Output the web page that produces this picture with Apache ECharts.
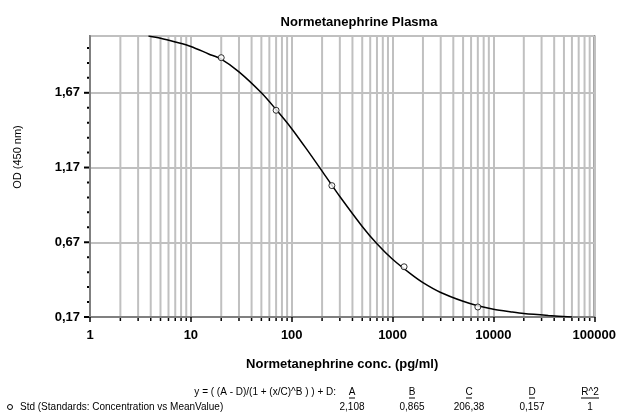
<!DOCTYPE html>
<html>
<head>
<meta charset="utf-8">
<script src="https://cdn.jsdelivr.net/npm/echarts@6/dist/echarts.min.js"></script>
<style>
  html, body { margin: 0; padding: 0; background: #fff; }
  #chart { width: 619px; height: 417px; }
</style>
</head>
<body>
<div id="chart"></div>
<script>
// standards (measured points)
var stdConc = [20, 70, 250, 1300, 7000];
var stdOD = [1.905, 1.553, 1.049, 0.506, 0.237];

// fitted curve
var curveConc = [3.8, 5, 7, 10, 15, 20, 30, 50, 70, 100, 150, 200, 300, 500, 700, 1000, 1500, 2000, 3000, 5000, 7000, 10000, 15000, 20000, 35000, 60000];
var curveOD = [2.05, 2.035, 2.01, 1.98, 1.93, 1.895, 1.81, 1.67, 1.558, 1.43, 1.266, 1.146, 0.976, 0.776, 0.66, 0.556, 0.46, 0.40, 0.334, 0.275, 0.245, 0.222, 0.204, 0.193, 0.18, 0.17];

// axis ticks
var yTicks = [0.17, 0.67, 1.17, 1.67];
var yTickLabels = ['0,17', '0,67', '1,17', '1,67'];
var yMinorTicks = [0.27, 0.37, 0.47, 0.57, 0.77, 0.87, 0.97, 1.07, 1.27, 1.37, 1.47, 1.57, 1.77, 1.87, 1.97];
var xMinorTicks = [];
[1, 10, 100, 1000, 10000].forEach(function (d) {
    for (var k = 2; k <= 9; k++) xMinorTicks.push(k * d);
});

// fit table
var fitFormula = 'y = ( (A - D)/(1 + (x/C)^B ) ) + D:';
var fitHeaders = ['A', 'B', 'C', 'D', 'R^2'];
var fitValues = ['2,108', '0,865', '206,38', '0,157', '1'];
var fitColX = [352, 412, 469, 532, 590];

var Y_MIN = 0.17, Y_MAX = 2.05;
var gridGray = '#c0c0c0';
var axisGray = '#808080';

var myChart = echarts.init(document.getElementById('chart'));

var graphics = [
    {
        type: 'text', x: 18, y: 157, rotation: Math.PI / 2,
        style: { text: 'OD (450 nm)', font: '11px "Liberation Sans", Arial', fill: '#000', align: 'center', verticalAlign: 'middle' }
    },
    {
        type: 'text', x: 336, y: 392,
        style: { text: fitFormula, font: '10px "Liberation Sans", Arial', fill: '#000', align: 'right', verticalAlign: 'middle' }
    },
    {
        type: 'circle', shape: { cx: 10, cy: 407, r: 2.5 },
        style: { fill: '#fff', stroke: '#000', lineWidth: 1 }
    },
    {
        type: 'text', x: 20, y: 407,
        style: { text: 'Std (Standards: Concentration vs MeanValue)', font: '10px "Liberation Sans", Arial', fill: '#000', align: 'left', verticalAlign: 'middle' }
    }
];
fitHeaders.forEach(function (h, i) {
    var w = h.length * 6;
    graphics.push({
        type: 'text', x: fitColX[i], y: 392,
        style: { text: h, font: '10px "Liberation Sans", Arial', fill: '#000', align: 'center', verticalAlign: 'middle' }
    });
    graphics.push({
        type: 'line', shape: { x1: fitColX[i] - w / 2, y1: 398, x2: fitColX[i] + w / 2, y2: 398 },
        style: { stroke: '#000', lineWidth: 1 }
    });
    graphics.push({
        type: 'text', x: fitColX[i], y: 407,
        style: { text: fitValues[i], font: '10px "Liberation Sans", Arial', fill: '#000', align: 'center', verticalAlign: 'middle' }
    });
});

var option = {
    animation: false,
    backgroundColor: '#fff',
    title: {
        text: 'Normetanephrine Plasma',
        left: 354, top: 11, textAlign: 'center',
        textStyle: { fontFamily: '"Liberation Sans", Arial', fontSize: 13, fontWeight: 'bold', color: '#000' }
    },
    grid: {
        left: 90, right: 23, top: 36, bottom: 100,
        show: true, borderColor: axisGray, borderWidth: 2, backgroundColor: 'transparent'
    },
    xAxis: {
        type: 'log', logBase: 10, min: 1, max: 100000,
        name: 'Normetanephrine conc. (pg/ml)',
        nameLocation: 'middle', nameGap: 41,
        nameTextStyle: { fontFamily: '"Liberation Sans", Arial', fontSize: 13, fontWeight: 'bold', color: '#000' },
        axisLine: { lineStyle: { color: axisGray, width: 2 } },
        axisTick: { length: 5, lineStyle: { color: '#000', width: 1.5 } },
        axisLabel: {
            margin: 12, color: '#000', fontFamily: '"Liberation Sans", Arial', fontSize: 13, fontWeight: 'bold',
            formatter: function (v) { return String(Math.round(v)); }
        },
        splitLine: { show: true, lineStyle: { color: gridGray, width: 2 } }
    },
    yAxis: {
        type: 'value', min: Y_MIN, max: Y_MAX, interval: 0.5,
        axisLine: { show: true, lineStyle: { color: axisGray, width: 2 } },
        axisTick: { show: false },
        axisLabel: {
            margin: 10, color: '#000', fontFamily: '"Liberation Sans", Arial', fontSize: 13, fontWeight: 'bold',
            formatter: function (v) {
                for (var i = 0; i < yTicks.length; i++) {
                    if (Math.abs(v - yTicks[i]) < 1e-6) return yTickLabels[i];
                }
                return '';
            }
        },
        splitLine: { show: true, lineStyle: { color: gridGray, width: 2 } }
    },
    graphic: graphics,
    series: [
        {
            // minor vertical grid lines and their ticks
            type: 'custom', z: -1, silent: true,
            data: xMinorTicks.map(function (v) { return [v]; }),
            renderItem: function (params, api) {
                var p0 = api.coord([api.value(0), Y_MIN]);
                var p1 = api.coord([api.value(0), Y_MAX]);
                return {
                    type: 'group', children: [
                        { type: 'line', shape: { x1: p0[0], y1: p0[1], x2: p1[0], y2: p1[1] }, style: { stroke: gridGray, lineWidth: 2 } },
                        { type: 'line', shape: { x1: p0[0], y1: p0[1] + 1, x2: p0[0], y2: p0[1] + 4 }, style: { stroke: '#000', lineWidth: 1.5 } }
                    ]
                };
            }
        },
        {
            // y ticks (major long, minor short)
            type: 'custom', silent: true,
            data: yTicks.map(function (v) { return [v, 5]; }).concat(yMinorTicks.map(function (v) { return [v, 2]; })),
            renderItem: function (params, api) {
                var p = api.coord([1, api.value(0)]);
                var len = api.value(1);
                return {
                    type: 'line', shape: { x1: p[0] - 1, y1: p[1], x2: p[0] - 1 - len, y2: p[1] },
                    style: { stroke: '#000', lineWidth: 2 }
                };
            }
        },
        {
            name: 'Fit',
            type: 'line',
            data: curveConc.map(function (c, i) { return [c, curveOD[i]]; }),
            smooth: 0.3,
            symbol: 'none',
            clip: true,
            lineStyle: { color: '#000', width: 1.5 },
            z: 3
        },
        {
            name: 'Std',
            type: 'scatter',
            data: stdConc.map(function (c, i) { return [c, stdOD[i]]; }),
            symbol: 'circle',
            symbolSize: 6,
            itemStyle: { color: '#fff', borderColor: '#000', borderWidth: 1 },
            z: 4
        }
    ]
};
myChart.setOption(option);
</script>
</body>
</html>
